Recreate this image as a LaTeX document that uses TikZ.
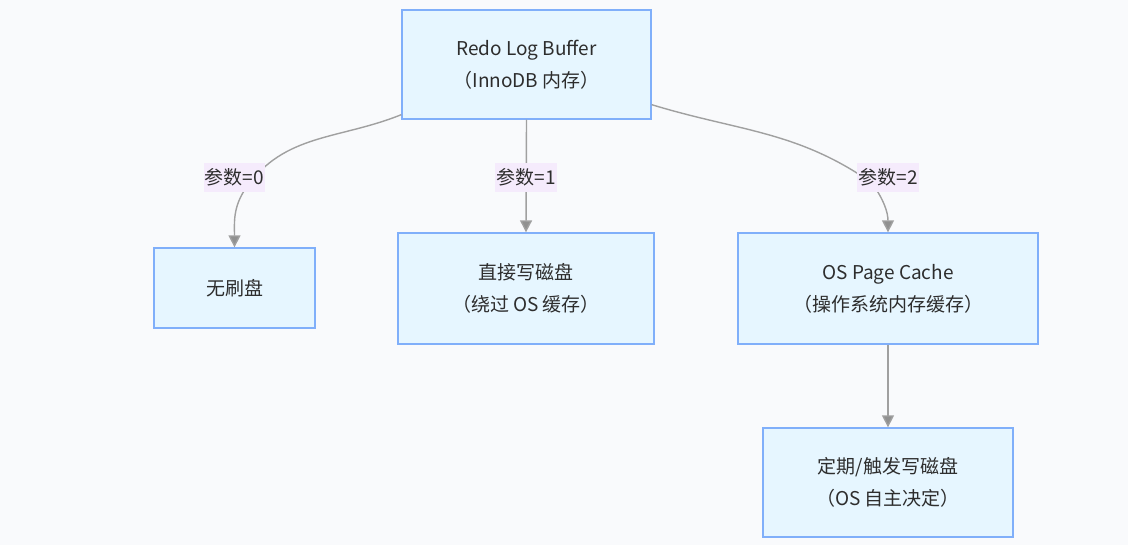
\documentclass[tikz,border=0pt]{standalone}
\usepackage{fontspec}
\setmainfont{Noto Sans CJK SC}
\usetikzlibrary{arrows.meta}
\definecolor{bgc}{RGB}{249,250,252}
\definecolor{boxfill}{RGB}{230,246,255}
\definecolor{boxdraw}{RGB}{128,175,250}
\definecolor{lblfill}{RGB}{245,235,252}
\definecolor{edgec}{RGB}{160,160,160}
\definecolor{txt}{RGB}{45,45,45}
\tikzset{
  box/.style={draw=boxdraw, fill=boxfill, line width=1.3pt, align=center, text=txt,
    font=\fontsize{19}{32}\selectfont, inner sep=0pt},
  lbl/.style={fill=lblfill, text=txt, font=\fontsize{19}{22}\selectfont, inner sep=1pt,
    minimum height=29pt},
  edge/.style={draw=edgec, line width=1.4pt, -{Triangle[width=12pt,length=12pt,fill=edgec!90!black]}}
}
\begin{document}
\begin{tikzpicture}[x=1pt,y=1pt]
\fill[bgc] (0,0) rectangle (1128,-545);
\useasboundingbox (0,0) rectangle (1128,-545);

\node[box, minimum width=249pt, minimum height=109pt] (top) at (526.5,-64.5) {Redo Log Buffer\\（InnoDB 内存）};
\node[box, minimum width=161pt, minimum height=80pt] (none) at (234.5,-288) {无刷盘};
\node[box, minimum width=256pt, minimum height=111pt] (direct) at (526,-288.5) {直接写磁盘\\（绕过 OS 缓存）};
\node[box, minimum width=300pt, minimum height=111pt] (cache) at (888,-288.5) {OS Page Cache\\（操作系统内存缓存）};
\node[box, minimum width=250pt, minimum height=109pt] (disk) at (888,-482.5) {定期/触发写磁盘\\（OS 自主决定）};

\coordinate (m0) at (246,-188);
\coordinate (m2) at (872,-183);

\draw[edge] ([yshift=5pt]top.south west) to[out=-158,in=55] (m0) to[out=-125,in=90] (none.north);
\draw[edge] (top.south) -- (direct.north);
\draw[edge] ([yshift=15pt]top.south east) to[out=-17,in=145] (m2) to[out=-55,in=90] (cache.north);
\draw[edge] (cache.south) -- (disk.north);

\node[lbl] (l0) at (234.5,-177.5) {参数=0};
\node[lbl] (l1) at (526,-177.5) {参数=1};
\node[lbl] (l2) at (888,-177.5) {参数=2};
\end{tikzpicture}
\end{document}
